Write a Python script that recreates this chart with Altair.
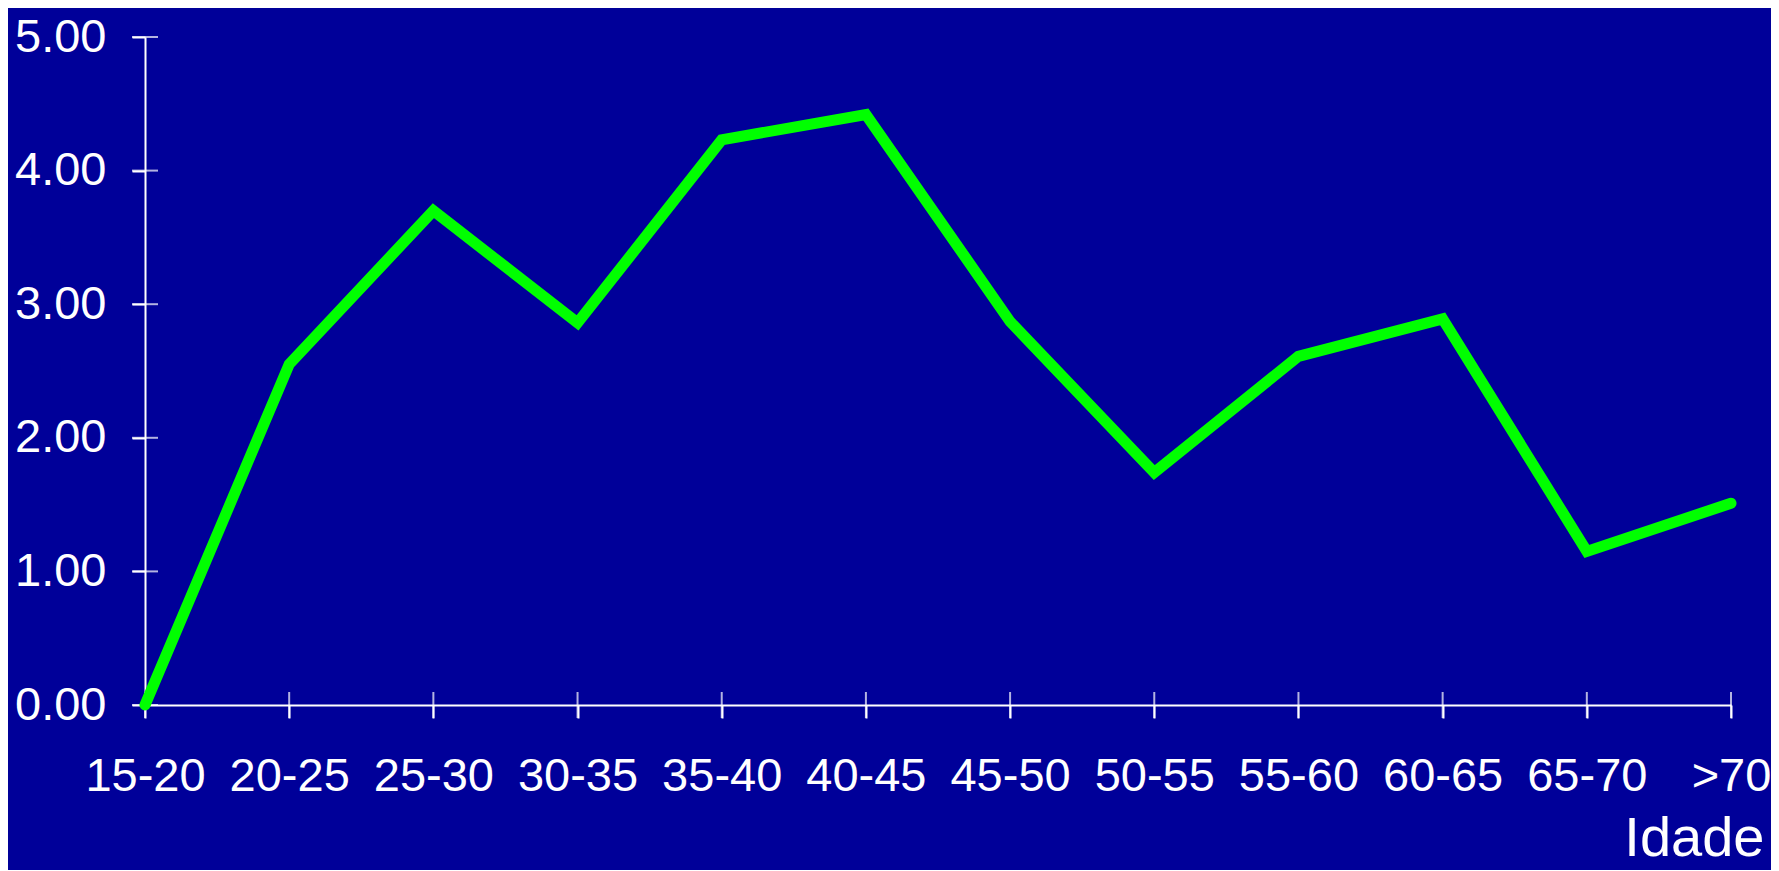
import altair as alt
import pandas as pd

categories = ["15-20", "20-25", "25-30", "30-35", "35-40", "40-45",
              "45-50", "50-55", "55-60", "60-65", "65-70", ">70"]
values = [0.00, 2.55, 3.70, 2.86, 4.23, 4.42, 2.87, 1.74, 2.61, 2.89, 1.15, 1.51]
y_ticks = [0, 1, 2, 3, 4, 5]

df = pd.DataFrame({"Idade": categories, "valor": values})
df_yt = pd.DataFrame({"t": y_ticks})

FONT = "Liberation Sans"
BG = "#000099"

x_scale = alt.Scale(type="point", padding=0, domain=categories)
y_scale = alt.Scale(domain=[0, 5], nice=False)

line = alt.Chart(df).mark_line(
    color="#00FF00", strokeWidth=11, strokeCap="round", strokeJoin="miter"
).encode(
    x=alt.X("Idade:N", sort=categories, scale=x_scale,
            axis=alt.Axis(
                title="Idade", titleColor="white", titleFont=FONT,
                titleFontSize=56, titleFontWeight="normal",
                titleAlign="right", titleBaseline="alphabetic", titleAngle=0,
                titleX=1619, titleY=150,
                labelColor="white", labelFont=FONT, labelFontSize=47,
                labelAngle=0, labelAlign="center", labelBaseline="top",
                labelPadding=35, labelOverlap=False, labelFlush=False,
                domainColor="white", domainWidth=2,
                tickColor="white", tickWidth=2, tickSize=13,
                grid=False)),
    y=alt.Y("valor:Q", scale=y_scale,
            axis=alt.Axis(
                title=None, values=y_ticks, format=".2f",
                labelColor="white", labelFont=FONT, labelFontSize=47,
                labelPadding=26, labelFlush=False,
                domainColor="white", domainWidth=2,
                tickColor="white", tickWidth=2, tickSize=13,
                grid=False)),
)

x_ticks = alt.Chart(df).mark_tick(
    color="white", orient="vertical", size=26, thickness=2
).encode(
    x=alt.X("Idade:N", sort=categories, scale=x_scale),
    y=alt.datum(0),
)

y_tick_marks = alt.Chart(df_yt).mark_tick(
    color="white", orient="horizontal", size=26, thickness=2
).encode(
    y=alt.Y("t:Q", scale=y_scale),
    x=alt.datum(categories[0]),
)

chart = alt.layer(x_ticks, y_tick_marks, line).properties(
    width=1586, height=668,
    background=BG,
    padding={"left": 137, "top": 29, "right": 40, "bottom": 165},
    autosize=alt.AutoSizeParams(type="none"),
).configure_view(stroke=None, fill=BG)

chart.save("out.html", embed_options={"renderer": "svg", "actions": False})
